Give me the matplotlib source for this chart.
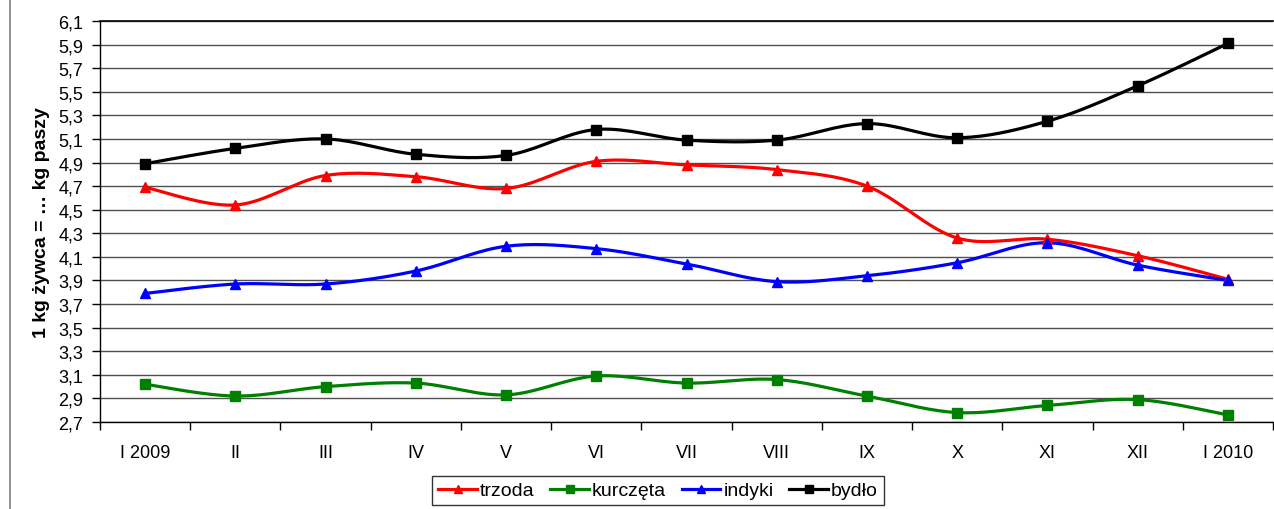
import numpy as np
import matplotlib
matplotlib.use("Agg")
from matplotlib import pyplot as plt

months = ['I 2009', 'II', 'III', 'IV', 'V', 'VI', 'VII', 'VIII', 'IX', 'X', 'XI', 'XII', 'I 2010']
trzoda = [4.69, 4.54, 4.79, 4.78, 4.68, 4.91, 4.88, 4.84, 4.70, 4.26, 4.25, 4.11, 3.91]
kurczeta = [3.02, 2.92, 3.00, 3.03, 2.93, 3.09, 3.03, 3.06, 2.92, 2.78, 2.84, 2.89, 2.76]
indyki = [3.79, 3.87, 3.87, 3.98, 4.19, 4.17, 4.04, 3.89, 3.94, 4.05, 4.22, 4.03, 3.90]
bydlo = [4.89, 5.02, 5.10, 4.97, 4.96, 5.18, 5.09, 5.09, 5.23, 5.11, 5.25, 5.55, 5.91]

series = [
    ('trzoda', trzoda, '#ff0000', '^'),
    ('kurczęta', kurczeta, '#008000', 's'),
    ('indyki', indyki, '#0000ff', '^'),
    ('bydło', bydlo, '#000000', 's'),
]


def smooth(x, y, n=20):
    # Excel-like smoothing: Catmull-Rom style cubic Bezier between points
    x = np.asarray(x, float)
    y = np.asarray(y, float)
    px = np.concatenate([[x[0]], x, [x[-1]]])
    py = np.concatenate([[y[0]], y, [y[-1]]])
    t = np.linspace(0, 1, n)[:, None]
    xs, ys = [], []
    for i in range(1, len(px) - 2):
        p0 = np.array([px[i], py[i]])
        p3 = np.array([px[i + 1], py[i + 1]])
        p1 = p0 + (np.array([px[i + 1], py[i + 1]]) - np.array([px[i - 1], py[i - 1]])) / 6
        p2 = p3 - (np.array([px[i + 2], py[i + 2]]) - np.array([px[i], py[i]])) / 6
        b = ((1 - t) ** 3) * p0 + 3 * ((1 - t) ** 2) * t * p1 + 3 * (1 - t) * t ** 2 * p2 + t ** 3 * p3
        xs.append(b[:, 0])
        ys.append(b[:, 1])
    return np.concatenate(xs), np.concatenate(ys)


plt.rcParams['font.family'] = ['Liberation Sans', 'DejaVu Sans']

fig = plt.figure(figsize=(12.74, 5.10), dpi=100)
ax = fig.add_axes([100 / 1274, 1 - 423 / 510, 1173 / 1274, 401 / 510])

x = np.arange(len(months))
handles = []
for name, vals, color, marker in series:
    sx, sy = smooth(x, vals)
    ax.plot(sx, sy, color=color, lw=2.3, zorder=3)
    ax.plot(x, vals, linestyle='none', marker=marker, color=color, markersize=7, zorder=4)
    h, = ax.plot([], [], color=color, lw=2.3, marker=marker, markersize=6, label=name)
    handles.append(h)

ax.set_xlim(-0.5, len(months) - 0.5)
ax.set_ylim(2.7, 6.1)
yt = np.arange(2.7, 6.11, 0.2)
ax.set_yticks(yt)
ax.set_yticklabels([f'{v:.1f}'.replace('.', ',') for v in yt], fontsize=13)
ax.yaxis.grid(True, color='#505050', lw=1)
ax.set_axisbelow(True)

ax.set_xticks(x)
ax.set_xticklabels(months, fontsize=13)
ax.set_xticks(np.arange(-0.5, len(months) - 0.4, 1), minor=True)
ax.tick_params(axis='x', which='major', length=0, pad=16)
ax.tick_params(axis='x', which='minor', length=6, width=1, color='black')
ax.tick_params(axis='y', length=6, width=1, pad=6)

ax.spines['right'].set_visible(False)
ax.spines['top'].set_linewidth(1.2)
ax.spines['left'].set_linewidth(1)
ax.spines['bottom'].set_linewidth(1)

ax.set_ylabel('1 kg żywca = … kg paszy', fontsize=14, fontweight='bold', labelpad=6)

leg = fig.legend(handles=handles, loc='upper center', bbox_to_anchor=(658 / 1274, 1 - 477 / 510),
                 ncol=4, frameon=True, fancybox=False, fontsize=14, handlelength=2.0,
                 handletextpad=0.15, columnspacing=0.8, borderpad=0.3, borderaxespad=0)
leg.get_frame().set_edgecolor('black')
leg.get_frame().set_linewidth(1)

fig.add_artist(plt.Line2D([10 / 1274, 10 / 1274], [0, 1], color='#808080', lw=1.2, transform=fig.transFigure))

plt.savefig('out.png', dpi=100)
plt.close()
